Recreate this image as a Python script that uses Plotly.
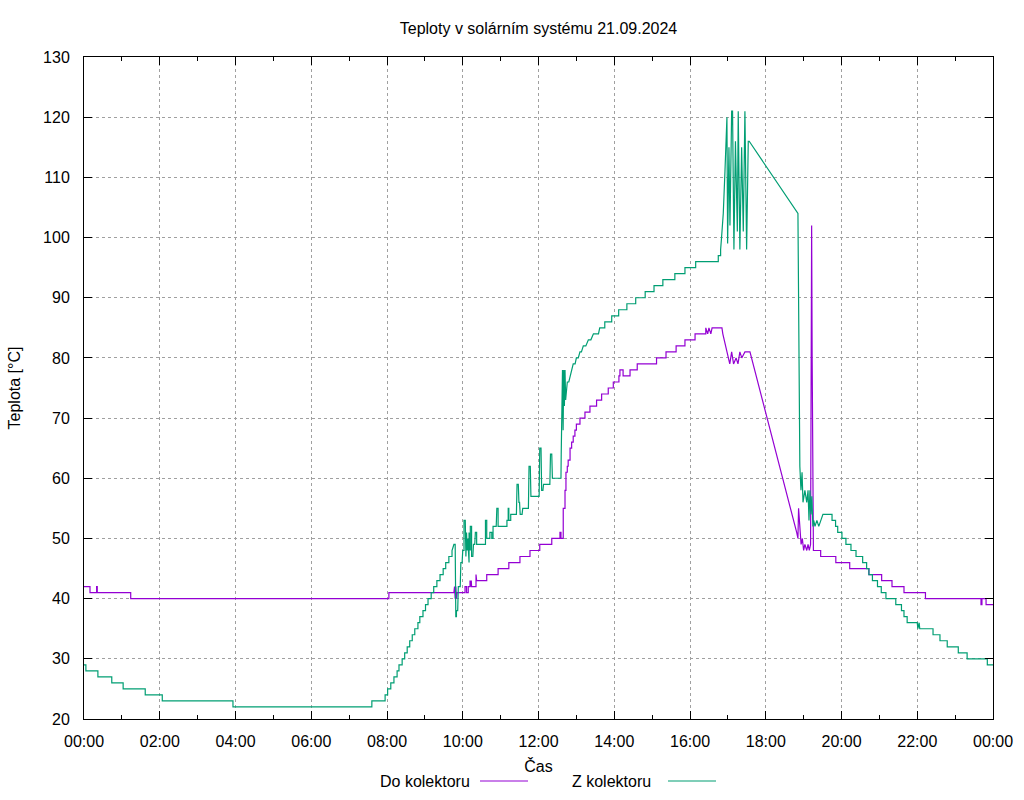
import plotly.graph_objects as go
import pandas as pd

title_text = "Teploty v solárním systému 21.09.2024"
x_title = "Čas"
y_title = "Teplota [°C]"
series_names = ["Do kolektoru", "Z kolektoru"]
series_colors = ["#9400D3", "#009E73"]

# minutes after midnight, temperature °C
do_min = [0, 9.5, 9.5, 20, 20, 21, 21, 74, 74, 483, 483, 586, 587, 588, 589, 590, 591,
          603.6, 603.6, 606, 606, 608.7, 608.7, 611.5, 611.5, 613, 613.5, 614, 621, 621, 622, 622,
          638, 638, 656, 656, 673, 673, 674, 674, 690.6, 690.6, 706.5, 706.5, 722, 722, 741, 741,
          754, 754, 755.6, 755.6, 758,
          759.2, 759.2, 762, 762, 763.5, 763.5, 765.6, 765.6, 767, 767, 770, 770, 772.5, 772.5,
          775, 775, 777.7, 777.7, 780, 780, 785.7, 785.7, 793.6, 793.6, 801.5, 801.5, 812, 812,
          820, 820, 830.5, 830.5, 838.5, 838.5, 847.4, 847.4, 849, 849, 854, 854, 865, 865,
          876.4, 876.4, 907, 907, 922, 922, 938, 938, 952, 952, 968, 968, 985, 985,
          988, 990, 993, 995, 1010.6, 1012, 1014, 1017, 1020, 1023, 1026, 1029, 1033, 1036, 1039,
          1042, 1047, 1055, 1129, 1131,
          1132, 1134, 1136, 1138, 1140, 1142, 1145, 1147, 1149, 1151, 1151.5, 1152, 1152.7, 1153.5,
          1154.5, 1155.5, 1158, 1167, 1167, 1191, 1191, 1213, 1213, 1243.4, 1243.4, 1263.6, 1263.6,
          1280, 1280, 1299, 1299, 1333, 1333, 1421, 1421, 1422.5, 1422.5, 1429, 1429, 1440]
do_val = [42, 42, 41, 41, 42, 42, 41, 41, 40, 40, 41, 41, 42, 40, 42, 40, 41,
          41, 42, 42, 41, 41, 42, 42, 43, 42, 43, 42, 42, 44, 44, 43,
          43, 44, 44, 45, 45, 46, 45, 46, 46, 47, 47, 48, 48, 49, 49, 50,
          50, 51, 51, 50, 50,
          50, 55, 55, 58, 58, 61, 61, 62, 62, 63, 63, 65, 65, 66,
          66, 67, 67, 68, 68, 69, 69, 70, 70, 71, 71, 72, 72, 73,
          73, 74, 74, 75, 75, 76, 76, 77, 77, 78, 78, 77, 77, 78,
          78, 79, 79, 80, 80, 81, 81, 82, 82, 83, 83, 84, 84, 85,
          84, 85, 84, 85, 85, 84, 83, 82, 80, 79, 81, 79, 80, 79, 81,
          80, 81, 81, 51, 50,
          55, 51, 49, 50, 48, 49, 48, 49, 48, 49, 89, 77, 102, 80,
          60, 48, 48, 48, 47, 47, 46, 46, 45, 45, 44, 44, 43,
          43, 42, 42, 41, 41, 40, 40, 39, 39, 40, 40, 39, 39]

z_min = [0, 3, 3, 22, 22, 44, 44, 62, 62, 97, 97, 124, 124, 236, 236, 456, 456, 477, 477, 481, 481,
         486, 486, 491, 491, 496, 496, 499, 499, 504, 504, 508, 508, 512, 512, 516, 516, 520, 520,
         524, 524, 529, 529, 532, 532, 537, 537, 541, 541, 545, 545, 550, 550, 554, 554, 559, 559,
         564, 564, 569, 569, 573, 573, 578, 578, 583, 583, 586, 588, 588, 589, 590, 590, 592, 593,
         596, 597, 599, 600, 602, 602, 604, 604, 605, 606, 607, 608, 609, 610, 610, 611, 612, 612,
         614, 614, 616, 617, 619, 620, 622, 622, 635, 636, 636, 638, 638, 643, 643, 646, 646, 648,
         648, 651, 653, 654, 656, 656, 659, 670, 670, 672, 672, 673, 673, 676, 676, 685, 686, 688,
         689, 690, 691, 694, 695, 704, 705, 707, 708, 721, 722, 724, 725, 727, 728, 738, 739, 741,
         742, 754, 755.6, 756, 756.7, 757, 758, 759, 760, 761, 762, 763, 763.5, 765.6, 768, 770,
         773, 775, 778, 780, 783, 785.7, 788, 791, 795, 799, 803, 807, 815, 817, 825, 825, 836, 836,
         847, 847, 860, 860, 874, 874, 889, 889, 903, 903, 917, 917, 936, 936, 952, 952, 969, 969,
         1004.8, 1004.8, 1008.5, 1008.5, 1010, 1012.7, 1015.4, 1017, 1018, 1018.5, 1019.6, 1021.7,
         1023.3, 1026, 1027.4, 1029.6, 1032, 1035, 1036.4, 1039, 1041.8, 1044.4, 1047, 1049.7,
         1052.3, 1053.8, 1131, 1132.6, 1134, 1135.8, 1137.5, 1139, 1142, 1145, 1147, 1148.5, 1150,
         1151.6, 1153, 1154.7, 1156, 1158, 1161, 1164, 1167, 1170.6, 1185, 1185, 1190.6, 1190.6,
         1194, 1194, 1200.7, 1200.7, 1207, 1207, 1215, 1215, 1223, 1223, 1233.5, 1233.5, 1239.8,
         1239.8, 1243.4, 1243.4, 1249, 1249, 1257, 1257, 1263, 1263, 1270.4, 1270.4, 1286, 1286,
         1295, 1295, 1299, 1299, 1304, 1304, 1320, 1321, 1323, 1324, 1345, 1345, 1356, 1356,
         1367.5, 1367.5, 1385, 1385, 1399, 1399, 1431, 1431, 1440]
z_val = [29, 29, 28, 28, 27, 27, 26, 26, 25, 25, 24, 24, 23, 23, 22, 22, 23, 23, 24, 24, 25,
         25, 26, 26, 27, 27, 28, 28, 29, 29, 30, 30, 31, 31, 32, 32, 33, 33, 34,
         34, 35, 35, 36, 36, 37, 37, 38, 38, 39, 39, 40, 40, 41, 41, 42, 42, 43,
         43, 44, 44, 45, 45, 46, 46, 47, 47, 48, 49, 49, 40, 37, 37, 38, 38, 42,
         42, 46, 46, 48, 48, 53, 53, 50, 47, 51, 48, 50, 46, 46, 51, 48, 48, 52,
         52, 47, 47, 49, 49, 51, 51, 49, 49, 49, 53, 53, 50, 50, 51, 51, 50, 50,
         52, 52, 52, 55, 55, 52, 52, 52, 53, 53, 55, 55, 53, 53, 54, 54, 59, 59,
         56, 56, 54, 54, 55, 55, 62, 62, 57, 57, 65, 65, 58, 58, 59, 59, 64, 64,
         60, 60, 60, 64, 74, 69, 78, 68, 78, 72, 78, 73, 74, 76, 76, 77,
         78, 79, 79, 80, 80, 81, 81, 82, 82, 83, 83, 84, 84, 85, 85, 86, 86, 87,
         87, 88, 88, 89, 89, 90, 90, 91, 91, 92, 92, 93, 93, 94, 94, 95, 95, 96,
         96, 97, 97, 98, 100, 104, 111, 116, 120, 120, 99, 115,
         102, 121, 121, 98, 116, 101, 121, 98, 115, 101, 121, 98,
         116, 116, 104, 82, 62, 58, 61, 56, 58, 56, 58, 53, 58,
         54, 57, 52, 53, 52, 53, 52, 53, 54, 54, 53, 53, 52,
         52, 51, 51, 50, 50, 49, 49, 48, 48, 47, 47, 46, 46,
         45, 45, 44, 44, 43, 43, 42, 42, 41, 41, 40, 40, 39,
         39, 38, 38, 37, 37, 36, 36, 35, 36, 35, 35, 34, 34, 33,
         33, 32, 32, 31, 31, 30, 30, 29, 29]

assert len(do_min) == len(do_val), (len(do_min), len(do_val))
assert len(z_min) == len(z_val), (len(z_min), len(z_val))

base = pd.Timestamp("2024-09-21 00:00")
day_end = base + pd.Timedelta(days=1)


def to_time(mins):
    return [base + pd.Timedelta(minutes=float(m)) for m in mins]


FONT = "Liberation Sans, Arial, sans-serif"
fig = go.Figure()
for name, color, mins, vals in [(series_names[0], series_colors[0], do_min, do_val),
                                (series_names[1], series_colors[1], z_min, z_val)]:
    fig.add_trace(go.Scatter(x=to_time(mins), y=vals, mode="lines", name=name,
                             line=dict(color=color, width=1.2), showlegend=False))

axis_common = dict(
    showline=True, linecolor="black", linewidth=1, mirror="allticks",
    ticks="inside", ticklen=8, tickcolor="black", tickwidth=1,
    showgrid=True, gridcolor="#a0a0a0", gridwidth=1, griddash="3px,3px",
    zeroline=False, tickfont=dict(family=FONT, size=16, color="black"),
)

fig.update_layout(
    width=1024, height=800,
    margin=dict(l=84, r=31, t=57, b=81),
    paper_bgcolor="white", plot_bgcolor="white",
    font=dict(family=FONT, size=16, color="black"),
    title=dict(text=title_text, x=0.5, xref="paper", xanchor="center",
               y=1 - 28 / 800, yref="container", yanchor="middle",
               font=dict(family=FONT, size=16, color="black")),
    xaxis=dict(type="date", range=[base, day_end], tick0=base, dtick=7200000,
               tickformat="%H:%M", ticklabelstandoff=8,
               minor=dict(dtick=3600000, tick0=base, ticks="inside", ticklen=4,
                          tickcolor="black", showgrid=False),
               title=dict(text=x_title, standoff=11,
                          font=dict(family=FONT, size=16, color="black")),
               **axis_common),
    yaxis=dict(range=[20, 130], tick0=20, dtick=10, ticklabelstandoff=10,
               title=dict(text=y_title, standoff=18,
                          font=dict(family=FONT, size=16, color="black")),
               **axis_common),
)

# gnuplot-style key below the plot: text followed by line sample
key_y = (719 - 781) / 662
key_text_right = [472, 653]
key_line = [(480, 528), (668, 716)]
for name, color, tr, (l0, l1) in zip(series_names, series_colors, key_text_right, key_line):
    fig.add_annotation(text=name, x=(tr - 84) / 909, y=key_y, xref="paper", yref="paper",
                       xanchor="right", yanchor="middle", showarrow=False,
                       font=dict(family=FONT, size=16, color="black"))
    fig.add_shape(type="line", xref="paper", yref="paper",
                  x0=(l0 - 84) / 909, x1=(l1 - 84) / 909, y0=key_y, y1=key_y,
                  line=dict(color=color, width=1.2))

fig.write_html("out.html")
